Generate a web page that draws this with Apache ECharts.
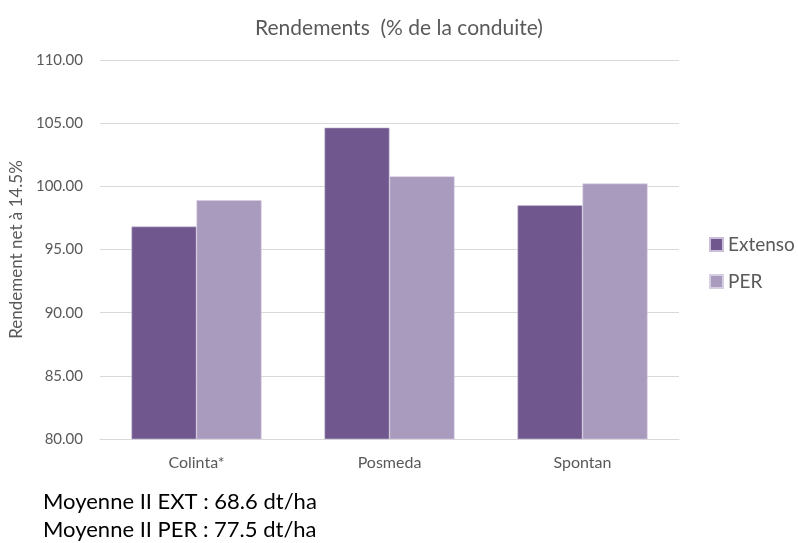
<!DOCTYPE html>
<html><head><meta charset="utf-8">
<script src="https://cdn.jsdelivr.net/npm/echarts@6/dist/echarts.min.js"></script>
<style>html,body{margin:0;padding:0;background:#fff}#c{width:798px;height:543px}</style>
</head><body><div id="c"></div>
<script>
const categories = ['Colinta*', 'Posmeda', 'Spontan'];
const extenso = [96.82, 104.65, 98.50];
const per = [98.90, 100.79, 100.22];
const seriesNames = ['Extenso', 'PER'];
const yTicks = { min: 80, max: 110, interval: 5 };
const titleText = 'Rendements  (% de la conduite)';
const yAxisName = 'Rendement net à 14.5%';
const notes = ['Moyenne II EXT : 68.6 dt/ha', 'Moyenne II PER : 77.5 dt/ha'];

const FONT = 'Lato, "Open Sans", sans-serif';
const chart = echarts.init(document.getElementById('c'), null, {renderer: 'canvas'});
chart.setOption({
  animation: false,
  backgroundColor: '#ffffff',
  title: {
    text: titleText, left: 'center', top: 13,
    textStyle: {fontFamily: FONT, fontSize: 21, fontWeight: 'normal', color: '#595959'}
  },
  legend: {
    orient: 'vertical', left: 704, top: 230, itemGap: 18,
    itemWidth: 13, itemHeight: 13, icon: 'rect',
    textStyle: {fontFamily: FONT, fontSize: 19, color: '#595959'},
    data: seriesNames
  },
  grid: {left: 100, right: 119, top: 60, bottom: 104, containLabel: false},
  xAxis: {
    type: 'category', data: categories,
    axisLine: {show: true, lineStyle: {color: '#D9D9D9', width: 1}},
    axisTick: {show: false},
    axisLabel: {fontFamily: FONT, fontSize: 16, color: '#595959', margin: 16}
  },
  yAxis: {
    type: 'value', min: yTicks.min, max: yTicks.max, interval: yTicks.interval,
    name: yAxisName, nameLocation: 'middle', nameGap: 68, nameRotate: 90,
    nameTextStyle: {fontFamily: FONT, fontSize: 17, color: '#595959'},
    axisLine: {show: false}, axisTick: {show: false},
    axisLabel: {fontFamily: FONT, fontSize: 15, color: '#595959', margin: 17,
      formatter: v => v.toFixed(2)},
    splitLine: {lineStyle: {color: '#D9D9D9', width: 1}}
  },
  series: [
    {name: seriesNames[0], type: 'bar', data: extenso, barGap: '0%', barCategoryGap: '32.6%',
     itemStyle: {color: '#70588E', borderColor: '#C9BFD8', borderWidth: 0.6}},
    {name: seriesNames[1], type: 'bar', data: per,
     itemStyle: {color: '#A99BBE', borderColor: '#D6CFE2', borderWidth: 0.6}}
  ],
  graphic: [
    {type: 'text', left: 43, top: 491, style: {text: notes[0], font: '22px ' + FONT, fill: '#000'}},
    {type: 'text', left: 43, top: 519, style: {text: notes[1], font: '22px ' + FONT, fill: '#000'}}
  ]
});
</script></body></html>
